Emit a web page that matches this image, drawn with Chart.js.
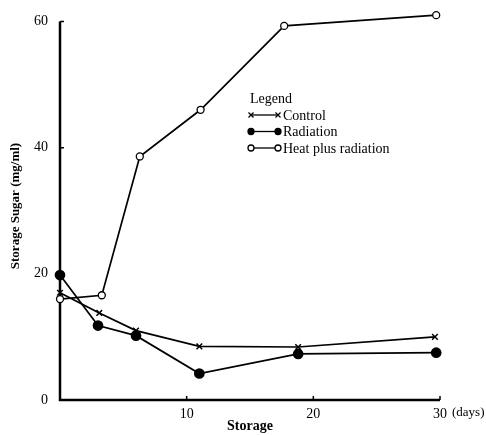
<!DOCTYPE html>
<html lang="en">
<head>
<meta charset="UTF-8">
<title>Storage Sugar</title>
<script src="https://cdn.jsdelivr.net/npm/chart.js"></script>
<style>
  html, body { margin: 0; padding: 0; background: #fff; }
  #wrap { width: 486px; height: 435px; position: relative; }
</style>
</head>
<body>
<div id="wrap"><canvas id="sugarChart"></canvas></div>
<script>
// data
const seriesNames = ['Control', 'Radiation', 'Heat plus radiation'];
const controlDays = [0, 3.1, 6, 11, 18.8, 29.6];
const controlSugar = [17, 13.8, 11, 8.5, 8.4, 10];
const radiationDays = [0, 3, 6, 11, 18.8, 29.7];
const radiationSugar = [19.8, 11.8, 10.2, 4.2, 7.3, 7.5];
const heatDays = [0, 3.3, 6.3, 11.1, 17.7, 29.7];
const heatSugar = [16, 16.6, 38.6, 46, 59.3, 61];
const yTicks = [0, 20, 40, 60];
const xTicks = [10, 20, 30];

const toPoints = (xs, ys) => xs.map((x, i) => ({ x: x, y: ys[i] }));
const serif = "'Liberation Serif', 'DejaVu Serif', serif";

// axis lines only up to 60 / 30, legend box and "(days)" unit
const extras = {
  id: 'extras',
  beforeDatasetsDraw(chart) {
    const ctx = chart.ctx;
    const xs = chart.scales.x;
    const ys = chart.scales.y;
    const x0 = xs.getPixelForValue(0), x1 = xs.getPixelForValue(30);
    const y0 = ys.getPixelForValue(0), y1 = ys.getPixelForValue(60);
    ctx.save();
    ctx.strokeStyle = '#000';
    ctx.lineWidth = 2.5;
    ctx.beginPath();
    ctx.moveTo(x0, y1);
    ctx.lineTo(x0, y0);
    ctx.lineTo(x1, y0);
    ctx.stroke();
    ctx.lineWidth = 1.5;
    ctx.beginPath();
    yTicks.forEach(v => { const y = ys.getPixelForValue(v); ctx.moveTo(x0, y); ctx.lineTo(x0 + 4, y); });
    xTicks.forEach(v => { const x = xs.getPixelForValue(v); ctx.moveTo(x, y0); ctx.lineTo(x, y0 - 4); });
    ctx.stroke();
    ctx.restore();
  },
  afterDraw(chart) {
    const ctx = chart.ctx;
    ctx.save();
    ctx.fillStyle = '#000';
    ctx.strokeStyle = '#000';
    ctx.textBaseline = 'middle';
    ctx.font = '13px ' + serif;
    const xs = chart.scales.x;
    const ys = chart.scales.y;
    ctx.fillText('(days)', xs.getPixelForValue(30) + 12, ys.getPixelForValue(0) + 13);

    const lx = 250, ly = 99;
    ctx.font = '14px ' + serif;
    ctx.fillText('Legend', lx, ly);
    chart.data.datasets.forEach((ds, i) => {
      const y = ly + 16 + i * 16.5;
      ctx.lineWidth = 1.3;
      ctx.beginPath();
      ctx.moveTo(lx + 1, y);
      ctx.lineTo(lx + 28, y);
      ctx.stroke();
      [lx + 1, lx + 28].forEach(px => {
        if (ds.pointStyle === 'crossRot') {
          ctx.beginPath();
          ctx.moveTo(px - 2.5, y - 2.5); ctx.lineTo(px + 2.5, y + 2.5);
          ctx.moveTo(px + 2.5, y - 2.5); ctx.lineTo(px - 2.5, y + 2.5);
          ctx.stroke();
        } else {
          ctx.beginPath();
          ctx.arc(px, y, 3, 0, Math.PI * 2);
          ctx.fillStyle = ds.pointBackgroundColor;
          ctx.fill();
          ctx.stroke();
          ctx.fillStyle = '#000';
        }
      });
      ctx.fillText(ds.label, lx + 33, y + 1);
    });
    ctx.restore();
  }
};

new Chart(document.getElementById('sugarChart').getContext('2d'), {
  type: 'scatter',
  data: {
    datasets: [{
      label: seriesNames[0],
      data: toPoints(controlDays, controlSugar),
      showLine: true,
      borderColor: '#000',
      borderWidth: 1.7,
      pointStyle: 'crossRot',
      pointRadius: 4,
      pointBorderWidth: 1.5,
      pointBorderColor: '#000',
      pointBackgroundColor: '#000',
      clip: false
    }, {
      label: seriesNames[1],
      data: toPoints(radiationDays, radiationSugar),
      showLine: true,
      borderColor: '#000',
      borderWidth: 1.7,
      pointStyle: 'circle',
      pointRadius: 4.5,
      pointBorderColor: '#000',
      pointBackgroundColor: '#000',
      clip: false
    }, {
      label: seriesNames[2],
      data: toPoints(heatDays, heatSugar),
      showLine: true,
      borderColor: '#000',
      borderWidth: 1.7,
      pointStyle: 'circle',
      pointRadius: 3.5,
      pointBorderWidth: 1.3,
      pointBorderColor: '#000',
      pointBackgroundColor: '#fff',
      clip: false
    }]
  },
  options: {
    responsive: true,
    maintainAspectRatio: false,
    animation: false,
    layout: { padding: { left: 8, right: 46, top: 12, bottom: 0 } },
    plugins: {
      legend: { display: false },
      tooltip: { enabled: false }
    },
    scales: {
      x: {
        type: 'linear',
        min: 0,
        max: 30,
        afterBuildTicks: s => { s.ticks = xTicks.map(v => ({ value: v })); },
        afterFit: s => { s.height = 35; },
        grid: { display: false, tickLength: 4 },
        border: { display: false },
        ticks: { color: '#000', font: { family: serif, size: 14 }, padding: 2 },
        title: {
          display: true,
          text: 'Storage',
          color: '#000',
          font: { family: serif, size: 14, weight: 'bold' },
          padding: { top: 0, bottom: 0 }
        }
      },
      y: {
        min: 0,
        max: 61.5,
        afterBuildTicks: s => { s.ticks = yTicks.map(v => ({ value: v })); },
        afterFit: s => { s.width = 52; s.paddingTop = 0; },
        grid: { display: false, tickLength: 4 },
        border: { display: false },
        ticks: { color: '#000', font: { family: serif, size: 14 }, padding: 8 },
        title: {
          display: true,
          text: 'Storage Sugar (mg/ml)',
          color: '#000',
          font: { family: serif, size: 13, weight: 'bold' },
          padding: { top: 0, bottom: 4 }
        }
      }
    }
  },
  plugins: [extras]
});
</script>
</body>
</html>
